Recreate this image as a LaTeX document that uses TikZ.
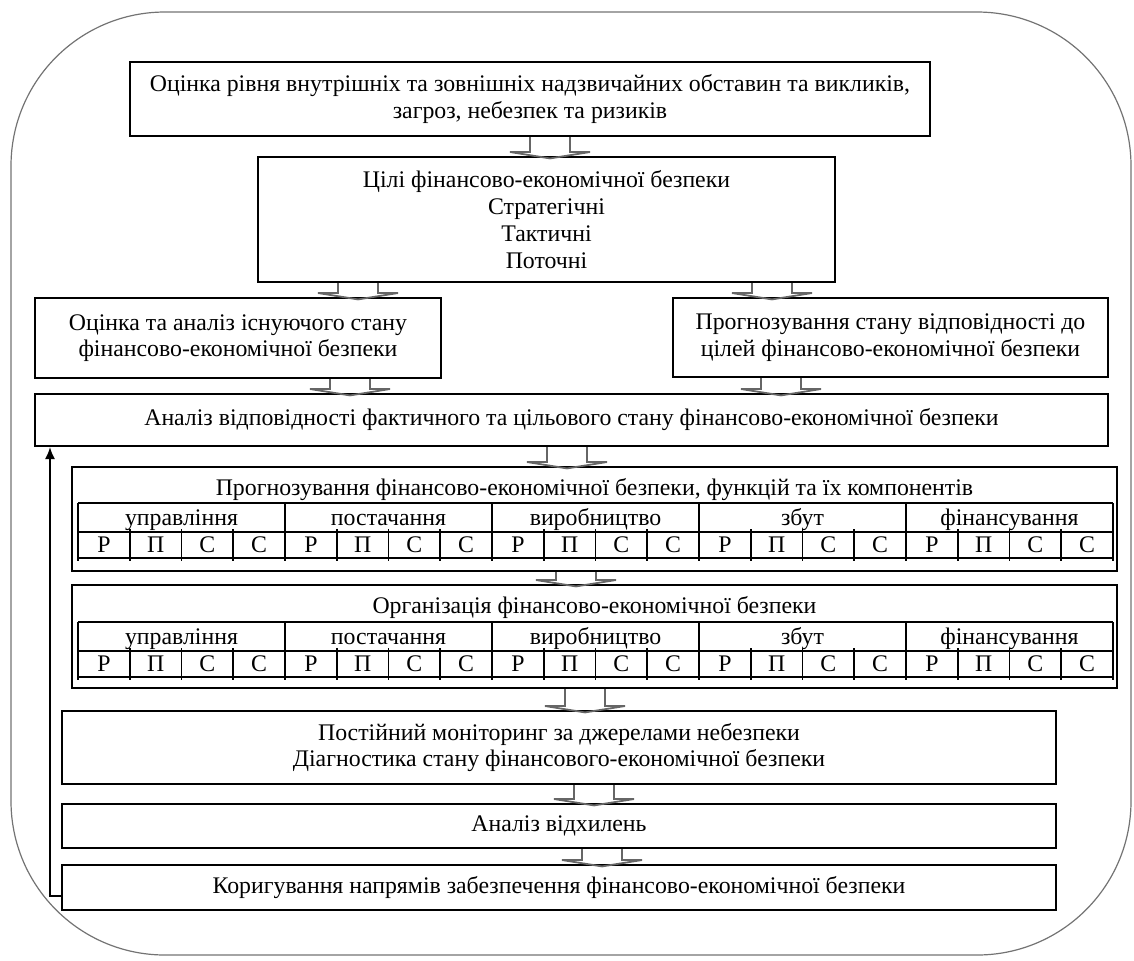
\documentclass[tikz,border=0pt]{standalone}
\usepackage{fontspec}
\setmainfont{Liberation Serif}
\usetikzlibrary{calc,arrows.meta}
% block arrow between two boxes: #1 x centre (px), #2 upper node, #3 lower node
\newcommand\flowarrow[3]{%
  \path[flow] let \p1=(#2.south),\p2=(#3.north) in
    ({#1*0.5pt-10pt},\y1)--({#1*0.5pt-10pt},\y2+2pt)--({#1*0.5pt-20pt},\y2+2pt)
    --({#1*0.5pt},\y2-1.2pt)--({#1*0.5pt+20pt},\y2+2pt)--({#1*0.5pt+10pt},\y2+2pt)
    --({#1*0.5pt+10pt},\y1);}
% table of functions: #1 name prefix, #2 top (px)
\newcommand\functable[2]{%
  \draw[grid](78,#2)--(1113,#2)(78,#2+29)--(1113,#2+29)(78,#2+55)--(1113,#2+55);
  \foreach \g [count=\k from 0] in {управління,постачання,виробництво,збут,фінансування}{
    \draw[grid]({78+207*\k},#2)--({78+207*\k},#2+58);
    \node[cell](#1-g\k)at({78+207*\k+103.5},#2+22){\g};
    \foreach \l [count=\j from 0] in {Р,П,С,С}{
      \ifnum\j>0 \draw[grid]({78+207*\k+51.75*\j},#2+26)--({78+207*\k+51.75*\j},#2+58);\fi
      \node[cell](#1-c\k\j)at({78+207*\k+51.75*(\j+0.5)},#2+49){\l};}}
  \draw[grid](1113,#2)--(1113,#2+58);}
\begin{document}
\begin{tikzpicture}[x=0.5pt,y=-0.5pt,font=\fontsize{11.9}{13.2}\selectfont]
\tikzstyle{box}=[draw,line width=1pt,fill=white,inner sep=0pt,align=center]
\tikzstyle{flow}=[draw=black!60,line width=0.9pt]
\tikzstyle{grid}=[draw,line width=0.9pt]
\tikzstyle{cell}=[inner sep=0pt,anchor=base]
\useasboundingbox(0,0)rectangle(1134,960);
\draw[black!55,line width=0.6pt,rounded corners=77pt](11,12)rectangle(1131,955);
\node[box,minimum width=400pt,minimum height=37pt](risk)at(530,99){Оцінка рівня внутрішніх та зовнішніх надзвичайних обставин та викликів,\\загроз, небезпек та ризиків};
\node[box,minimum width=288.5pt,minimum height=62.5pt,font=\fontsize{11.9}{13.5}\selectfont](goals)at(546.5,219.5){Цілі фінансово-економічної безпеки\\Стратегічні\\Тактичні\\Поточні};
\node[box,minimum width=203pt,minimum height=40pt](state)at(238,338){Оцінка та аналіз існуючого стану\\фінансово-економічної безпеки};
\node[box,minimum width=217.5pt,minimum height=39.5pt](prog)at(890.5,337.5){Прогнозування стану відповідності до\\цілей фінансово-економічної безпеки};
\node[box,minimum width=536.5pt,minimum height=26pt](match)at(571.5,420){Аналіз відповідності фактичного та цільового стану фінансово-економічної безпеки};
\node[box,minimum width=522.5pt,minimum height=52pt](fcast)at(594.5,519){};
\node[cell](fcasttitle)at(594.5,495){Прогнозування фінансово-економічної безпеки, функцій та їх компонентів};
\functable{fc}{503}
\node[box,minimum width=522.5pt,minimum height=51.5pt](org)at(594.5,636.5){};
\node[cell](orgtitle)at(594.5,613){Організація фінансово-економічної безпеки};
\functable{og}{622}
\node[box,minimum width=497pt,minimum height=36.5pt](watch)at(559,747.5){Постійний моніторинг за джерелами небезпеки\\Діагностика стану фінансового-економічної безпеки};
\node[box,minimum width=497pt,minimum height=22pt](dev)at(559,826){Аналіз відхилень};
\node[box,minimum width=497pt,minimum height=22.5pt](fix)at(559,887.5){Коригування напрямів забезпечення фінансово-економічної безпеки};
% block arrows
\flowarrow{550}{risk}{goals}
\flowarrow{358}{goals}{state}
\flowarrow{772}{goals}{prog}
\flowarrow{350}{state}{match}
\flowarrow{781}{prog}{match}
\flowarrow{567}{match}{fcast}
\flowarrow{576}{fcast}{org}
\flowarrow{585}{org}{watch}
\flowarrow{594}{watch}{dev}
\flowarrow{602}{dev}{fix}
% feedback
\coordinate(fbtop)at([xshift=8pt]match.south west);
\draw[line width=0.9pt,-{Latex[length=6pt,width=5pt]}]([yshift=-4.25pt]fix.west)-|(fbtop);
\end{tikzpicture}
\end{document}
